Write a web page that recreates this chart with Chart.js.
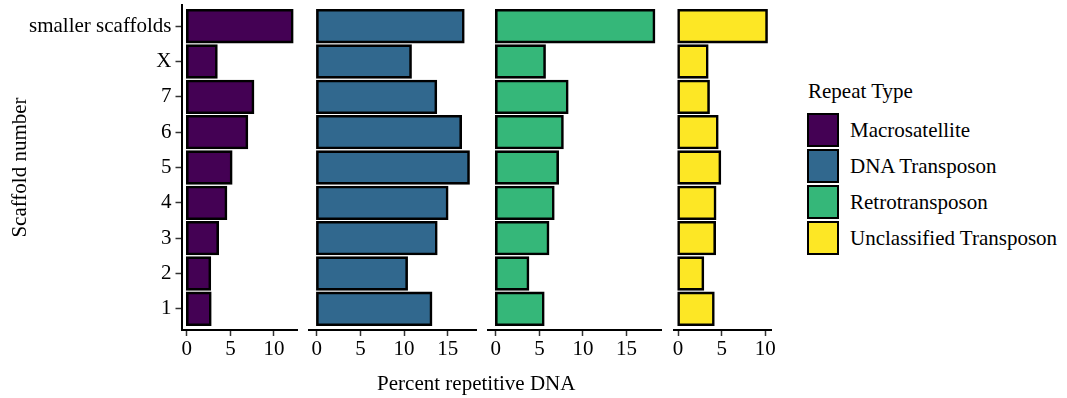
<!DOCTYPE html>
<html>
<head>
<meta charset="utf-8">
<script src="https://cdn.jsdelivr.net/npm/chart.js@4.4.1/dist/chart.umd.min.js"></script>
<style>
  html, body { margin: 0; padding: 0; background: #ffffff; }
  #wrap { position: relative; width: 1067px; height: 398px; overflow: hidden;
          font-family: 'Liberation Serif', 'Times New Roman', serif; color: #000; }
  .panel { position: absolute; top: 0; }
  .txt { position: absolute; font-size: 21px; white-space: nowrap; line-height: 21px; }
  .key { position: absolute; box-sizing: border-box; border: 2.5px solid #000; }
</style>
</head>
<body>
<div id="wrap"></div>
<script>
// ---------------- data ----------------
const categories = ['1', '2', '3', '4', '5', '6', '7', 'X', 'smaller scaffolds'];
const repeatTypes = ['Macrosatellite', 'DNA Transposon', 'Retrotransposon', 'Unclassified Transposon'];
const macrosatellite         = [2.7, 2.65, 3.55, 4.5, 5.1, 6.9, 7.6, 3.4, 12.1];
const dnaTransposon          = [13.1, 10.3, 13.7, 14.95, 17.4, 16.5, 13.65, 10.75, 16.8];
const retrotransposon        = [5.45, 3.7, 6.0, 6.6, 7.1, 7.65, 8.2, 5.6, 18.15];
const unclassifiedTransposon = [4.05, 2.85, 4.2, 4.25, 4.8, 4.5, 3.5, 3.35, 10.15];
const xTicksMacro   = [0, 5, 10];
const xTicksDNA     = [0, 5, 10, 15];
const xTicksRetro   = [0, 5, 10, 15];
const xTicksUnclass = [0, 5, 10];
const colors = ['#440154', '#31688E', '#35B779', '#FDE725'];
const yTitle = 'Scaffold number';
const xTitle = 'Percent repetitive DNA';
const legendTitle = 'Repeat Type';

// ---------------- layout ----------------
const seriesValues = [macrosatellite, dnaTransposon, retrotransposon, unclassifiedTransposon];
const seriesTicks = [xTicksMacro, xTicksDNA, xTicksRetro, xTicksUnclass];
const PX_PER_UNIT = 8.72;
const AREA_TOP = 5, AREA_BOTTOM = 330, H = 398;
const FIRST_LEFT = 181.5, GAP = 11.7, SIDE = 14;
const FONT = { family: "'Liberation Serif', 'Times New Roman', serif", size: 21 };

Chart.defaults.font.family = FONT.family;
Chart.defaults.font.size = FONT.size;
Chart.defaults.color = '#000';

const wrap = document.getElementById('wrap');
let areaLeft = FIRST_LEFT;

seriesValues.forEach((vals, p) => {
  const vmax = Math.max(...vals);
  const xmin = -0.05 * vmax, xmax = 1.05 * vmax;
  const w = (xmax - xmin) * PX_PER_UNIT;
  let canvasLeft, padLeft;
  if (p === 0) { canvasLeft = 0; padLeft = 0; }
  else { canvasLeft = Math.floor(areaLeft) - SIDE; padLeft = areaLeft - canvasLeft; }
  const W = Math.ceil(areaLeft + w + SIDE) - canvasLeft;
  const padRight = W - (areaLeft - canvasLeft) - w;

  const div = document.createElement('div');
  div.className = 'panel';
  div.style.left = canvasLeft + 'px';
  div.style.width = W + 'px';
  div.style.height = H + 'px';
  const cv = document.createElement('canvas');
  cv.width = W; cv.height = H;
  cv.style.width = W + 'px'; cv.style.height = H + 'px';
  div.appendChild(cv);
  wrap.appendChild(div);

  const tickGrid = { display: true, drawOnChartArea: false, drawTicks: true, tickLength: 6,
                     tickColor: '#333333', tickWidth: 1.5, offset: false };
  const border = { display: true, color: '#000', width: 2 };
  const panelTicks = seriesTicks[p];

  new Chart(cv, {
    type: 'bar',
    data: {
      datasets: [{
        label: repeatTypes[p],
        data: vals.map((v, i) => ({ x: v, y: i + 1 })),
        backgroundColor: colors[p],
        borderColor: '#000',
        borderWidth: 2.6,
        inflateAmount: 1.3,
        borderSkipped: false,
        categoryPercentage: 1,
        barPercentage: 0.9
      }]
    },
    options: {
      indexAxis: 'y',
      responsive: false,
      animation: false,
      devicePixelRatio: 1,
      layout: { padding: { left: padLeft, right: padRight, top: AREA_TOP, bottom: 0 } },
      plugins: { legend: { display: false }, tooltip: { enabled: false } },
      scales: {
        y: {
          type: 'linear', position: 'left',
          offset: false,
          bounds: 'data',
          min: 0.4, max: categories.length + 0.6,
          display: p === 0,
          afterBuildTicks: s => { s.ticks = categories.map((c, k) => ({ value: k + 1 })); },
          ticks: { autoSkip: false, padding: 4, color: '#000', font: FONT,
                   callback: v => categories[Math.round(v) - 1] },
          grid: tickGrid, border: border,
          title: { display: true, text: yTitle, color: '#000', font: FONT,
                   padding: { top: 8, bottom: 0 } },
          afterFit: s => {
            if (p === 0) { s.width = FIRST_LEFT; }
            s.paddingTop = 0; s.paddingBottom = 0;
          }
        },
        x: {
          type: 'linear', position: 'bottom',
          offset: false,
          bounds: 'data',
          min: xmin, max: xmax,
          afterBuildTicks: s => { s.ticks = panelTicks.map(v => ({ value: v })); },
          ticks: { autoSkip: false, padding: 1, color: '#000', font: FONT, maxRotation: 0,
                   callback: v => String(v) },
          grid: tickGrid, border: border,
          afterFit: s => { s.height = H - AREA_BOTTOM; }
        }
      }
    }
  });

  areaLeft = areaLeft + w + GAP;
});

// ---------------- shared x title ----------------
const panelsRight = areaLeft - GAP;
const xTitleEl = document.createElement('div');
xTitleEl.className = 'txt';
xTitleEl.textContent = xTitle;
xTitleEl.style.left = ((FIRST_LEFT + panelsRight) / 2) + 'px';
xTitleEl.style.top = '373px';
xTitleEl.style.transform = 'translateX(-50%)';
wrap.appendChild(xTitleEl);

// ---------------- legend ----------------
const lt = document.createElement('div');
lt.className = 'txt';
lt.textContent = legendTitle;
lt.style.left = '808px';
lt.style.top = '81px';
wrap.appendChild(lt);
repeatTypes.forEach((name, i) => {
  const top = 113 + i * 35.9;
  const k = document.createElement('div');
  k.className = 'key';
  k.style.left = '807px';
  k.style.top = top + 'px';
  k.style.width = '32px';
  k.style.height = '34px';
  k.style.background = colors[i];
  wrap.appendChild(k);
  const t = document.createElement('div');
  t.className = 'txt';
  t.textContent = name;
  t.style.left = '850px';
  t.style.top = top + 'px';
  t.style.lineHeight = '34px';
  wrap.appendChild(t);
});
</script>
</body>
</html>
